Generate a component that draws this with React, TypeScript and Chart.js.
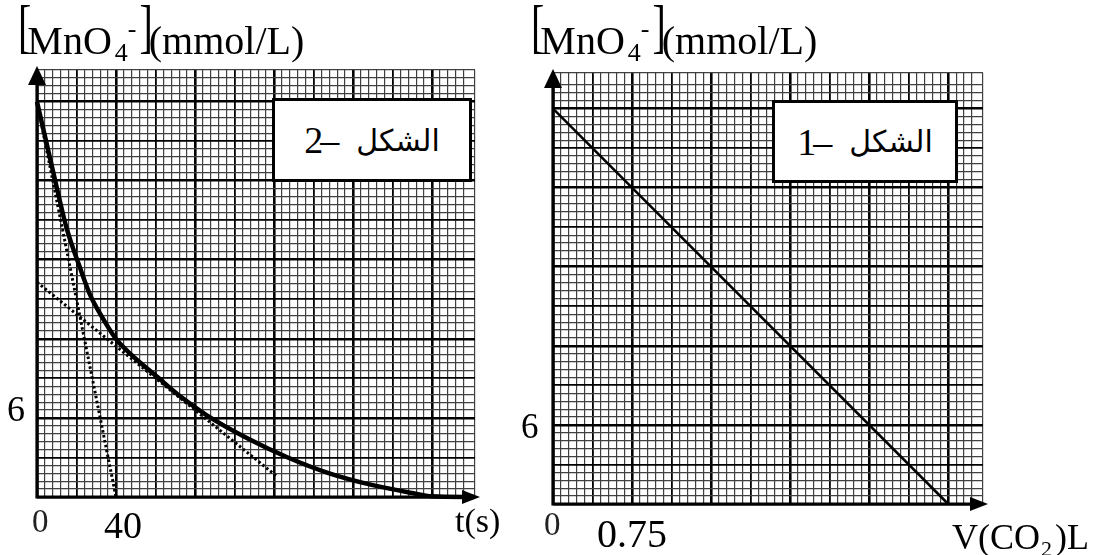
import React, { useEffect, useRef } from 'react';
import { Chart, registerables } from 'chart.js';

Chart.register(...registerables);

// ---- data ----
const timeS = [0, 8, 15, 22, 27, 32, 40, 47, 61, 72, 86, 106, 127, 148, 170, 190, 200, 221];
const concByTime = [30, 24.8, 20.4, 17.3, 15.3, 13.9, 12.0, 10.9, 9.1, 7.7, 6.2, 4.5, 3.0, 1.8, 0.9, 0.3, 0.05, 0];
const tangentAT = [0, 40];
const tangentAC = [30, 0];
const tangentBT = [0, 122];
const tangentBC = [16.3, 1.5];
const volumeCO2 = [0, 3.75];
const concByVolume = [30, 0];

const leftXTickLabels = ['0', '40'];
const leftYTickLabels = ['6'];
const rightXTickLabels = ['0', '0.75'];
const rightYTickLabels = ['6'];
const figureWord = 'الشكل';
const leftFigureNo = '–2';
const rightFigureNo = '–1';

const serif = "'Liberation Serif', 'Times New Roman', serif";

function gridFor(step: number) {
  const idx = (c: any) => {
    if (!c || !c.tick) return -1;
    const k = c.tick.value / step;
    const r = Math.round(k);
    return Math.abs(k - r) < 0.02 ? r : -1;
  };
  return {
    drawTicks: false,
    color: (c: any) => {
      const i = idx(c);
      return i >= 0 && i % 5 === 0 ? '#000' : '#404040';
    },
    lineWidth: (c: any) => {
      const i = idx(c);
      if (i < 0) return 1.2;
      if (i % 10 === 0) return 2.6;
      if (i % 5 === 0) return 1.8;
      return 1.2;
    },
  };
}

const axesPlugin = {
  id: 'axesArrows',
  beforeDatasetsDraw(chart: any) {
    const { ctx, chartArea: a } = chart;
    ctx.save();
    ctx.strokeStyle = '#000';
    ctx.fillStyle = '#000';
    ctx.lineWidth = 3.2;
    ctx.beginPath();
    ctx.moveTo(a.left, a.top + 8);
    ctx.lineTo(a.left, a.bottom);
    ctx.lineTo(a.right - 4, a.bottom);
    ctx.stroke();
    ctx.beginPath();
    ctx.moveTo(a.left, a.top - 4);
    ctx.lineTo(a.left - 9, a.top + 15);
    ctx.lineTo(a.left + 9, a.top + 15);
    ctx.closePath();
    ctx.fill();
    ctx.beginPath();
    ctx.moveTo(a.right + 5, a.bottom);
    ctx.lineTo(a.right - 13, a.bottom - 7);
    ctx.lineTo(a.right - 13, a.bottom + 7);
    ctx.closePath();
    ctx.fill();
    ctx.restore();
  },
};

function pts(xs: number[], ys: number[]) {
  return xs.map((x, i) => ({ x, y: ys[i] }));
}

function makeScales(xMax: number, xStep: number, yMax: number, yStep: number) {
  return {
    x: {
      type: 'linear',
      min: 0,
      max: xMax,
      ticks: { display: false, stepSize: xStep, autoSkip: false },
      grid: gridFor(xStep),
      border: { display: false },
      afterFit: (s: any) => {
        s.height = 0;
      },
    },
    y: {
      type: 'linear',
      min: 0,
      max: yMax,
      ticks: { display: false, stepSize: yStep, autoSkip: false },
      grid: gridFor(yStep),
      border: { display: false },
      afterFit: (s: any) => {
        s.width = 0;
      },
    },
  };
}

function Txt({ x, base, size, children, style }: any) {
  return (
    <div
      style={{
        position: 'absolute',
        left: x,
        top: base - 0.8375 * size,
        fontSize: size,
        lineHeight: `${size}px`,
        fontFamily: serif,
        whiteSpace: 'nowrap',
        color: '#000',
        ...style,
      }}
    >
      {children}
    </div>
  );
}

function ConcLabel({ x }: { x: number }) {
  const br: React.CSSProperties = {
    display: 'inline-block',
    transform: 'translateY(-15px) scaleY(1.5)',
  };
  return (
    <Txt x={x} base={54} size={40}>
      <span style={{ ...br, marginRight: -4 }}>[</span>
      MnO
      <span style={{ fontSize: 26, verticalAlign: '-7px', lineHeight: 0, marginLeft: 3 }}>4</span>
      <span style={{ fontSize: 26, verticalAlign: '17px', lineHeight: 0 }}>-</span>
      <span style={{ ...br, marginLeft: 3, marginRight: -4 }}>]</span>
      (mmol/L)
    </Txt>
  );
}

function Box({ x, y, w, h, no }: any) {
  return (
    <div
      dir="rtl"
      style={{
        position: 'absolute',
        left: x,
        top: y,
        width: w,
        height: h,
        boxSizing: 'border-box',
        border: '3px solid #000',
        background: '#fff',
        display: 'flex',
        alignItems: 'center',
        justifyContent: 'center',
        gap: 20,
        color: '#000',
        whiteSpace: 'nowrap',
      }}
    >
      <span style={{ fontFamily: "'DejaVu Sans', sans-serif", fontSize: 30 }}>{figureWord}</span>
      <span dir="rtl" style={{ fontFamily: serif, fontSize: 38, letterSpacing: -3 }}>{no}</span>
    </div>
  );
}

export default function App() {
  const leftRef = useRef<HTMLCanvasElement>(null);
  const rightRef = useRef<HTMLCanvasElement>(null);

  useEffect(() => {
    const left = new Chart(leftRef.current as HTMLCanvasElement, {
      type: 'line',
      data: {
        datasets: [
          {
            data: pts(timeS, concByTime),
            borderColor: '#000',
            borderWidth: 4.5,
            pointRadius: 0,
            cubicInterpolationMode: 'monotone',
            clip: false,
          },
          {
            data: pts(tangentAT, tangentAC),
            borderColor: '#000',
            borderWidth: 3,
            borderDash: [2.5, 2.5],
            pointRadius: 0,
          },
          {
            data: pts(tangentBT, tangentBC),
            borderColor: '#000',
            borderWidth: 3,
            borderDash: [2.5, 2.5],
            pointRadius: 0,
          },
        ],
      },
      options: {
        responsive: false,
        animation: false,
        events: [],
        layout: { padding: { left: 37, right: 45, top: 70, bottom: 58 } },
        plugins: { legend: { display: false }, tooltip: { enabled: false } },
        scales: makeScales(221.8, 4, 32.4, 0.6) as any,
      },
      plugins: [axesPlugin],
    } as any);

    const right = new Chart(rightRef.current as HTMLCanvasElement, {
      type: 'line',
      data: {
        datasets: [
          {
            data: pts(volumeCO2, concByVolume),
            borderColor: '#000',
            borderWidth: 2.5,
            pointRadius: 0,
            clip: false,
          },
        ],
      },
      options: {
        responsive: false,
        animation: false,
        events: [],
        layout: { padding: { left: 33, right: 110, top: 73, bottom: 51 } },
        plugins: { legend: { display: false }, tooltip: { enabled: false } },
        scales: makeScales(4.08, 0.075, 32.7, 0.6) as any,
      },
      plugins: [axesPlugin],
    } as any);

    return () => {
      left.destroy();
      right.destroy();
    };
  }, []);

  return (
    <div style={{ position: 'absolute', left: 0, top: 0, width: 1093, height: 555, background: '#fff', overflow: 'hidden' }}>
      <canvas ref={leftRef} width={520} height={555} style={{ position: 'absolute', left: 0, top: 0 }} />
      <canvas ref={rightRef} width={573} height={555} style={{ position: 'absolute', left: 520, top: 0 }} />

      <ConcLabel x={18} />
      <ConcLabel x={531} />

      <Box x={272} y={98} w={200} h={84} no={leftFigureNo} />
      <Box x={772} y={100} w={186} h={83} no={rightFigureNo} />

      <Txt x={7} base={421} size={36}>{leftYTickLabels[0]}</Txt>
      <Txt x={32} base={533} size={33} style={{ color: '#222' }}>{leftXTickLabels[0]}</Txt>
      <Txt x={104} base={538} size={38}>{leftXTickLabels[1]}</Txt>
      <Txt x={455} base={532} size={34}>t(s)</Txt>

      <Txt x={521} base={438} size={35}>{rightYTickLabels[0]}</Txt>
      <Txt x={544} base={536} size={33} style={{ color: '#222' }}>{rightXTickLabels[0]}</Txt>
      <Txt x={597} base={547} size={40}>{rightXTickLabels[1]}</Txt>
      <Txt x={952} base={549} size={36}>
        V(CO
        <span style={{ fontSize: 22, verticalAlign: '-7px', lineHeight: 0, marginLeft: 1, marginRight: 3 }}>2</span>
        )L
      </Txt>
    </div>
  );
}
